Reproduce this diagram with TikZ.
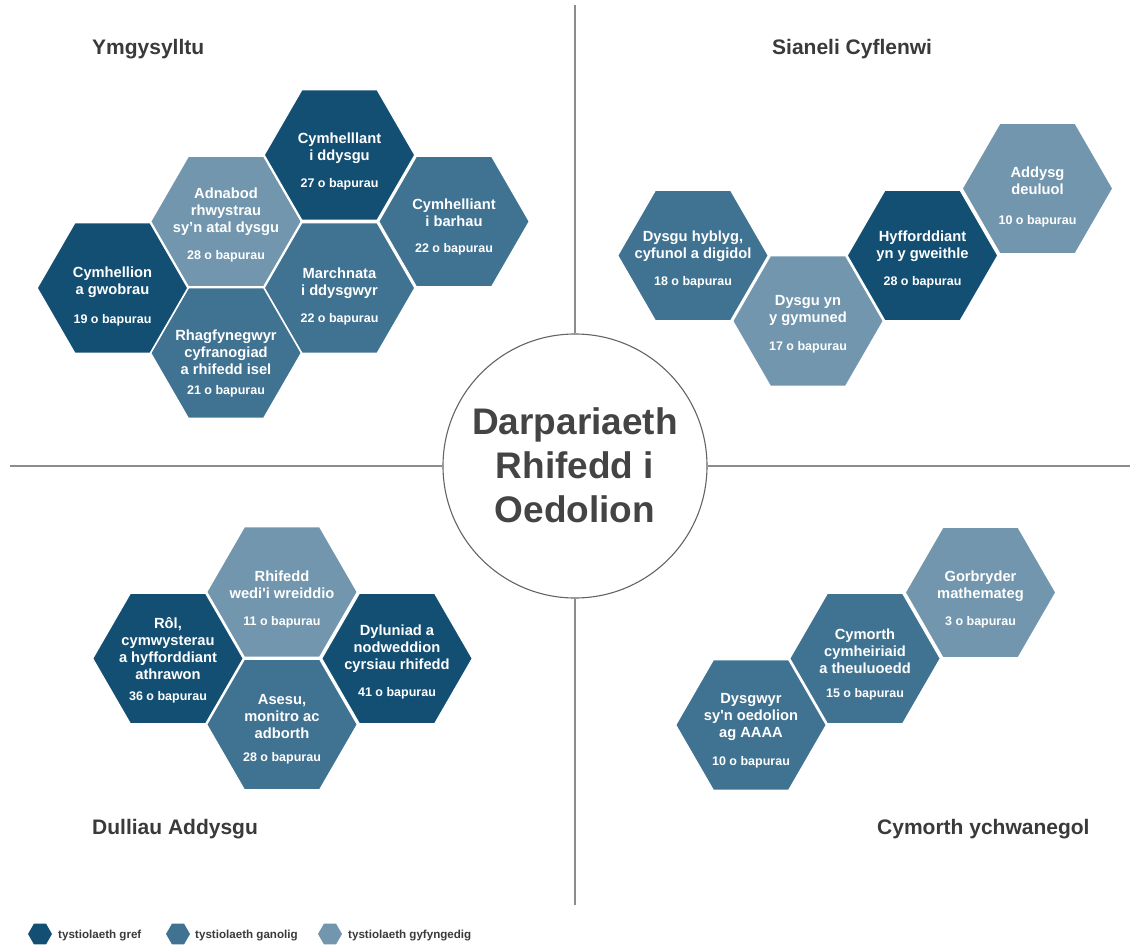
\documentclass[tikz,border=0pt]{standalone}
\usepackage{fontspec}
\newfontfamily\hv{Liberation Sans}
\usetikzlibrary{shapes.geometric}
\definecolor{hdark}{RGB}{19,79,115}
\definecolor{hmed}{RGB}{64,114,146}
\definecolor{hlight}{RGB}{113,150,174}
\definecolor{txtgray}{RGB}{58,58,58}
\definecolor{ctrgray}{RGB}{68,68,68}
\definecolor{linegray}{RGB}{140,140,140}
\definecolor{circgray}{RGB}{100,100,100}
\tikzset{
  hexbase/.style={regular polygon, regular polygon sides=6, minimum size=151pt, inner sep=0pt, outer sep=0pt, draw=white, line width=1.5pt},
  hexdark/.style={hexbase, fill=hdark},
  hexmed/.style={hexbase, fill=hmed},
  hexlight/.style={hexbase, fill=hlight},
  htitle/.style={text=white, font=\hv\bfseries\fontsize{14.7}{17}\selectfont, align=center, inner sep=0pt},
  hnum/.style={text=white, font=\hv\bfseries\fontsize{12.5}{14}\selectfont, inner sep=0pt},
  qtitle/.style={text=txtgray, font=\hv\bfseries\fontsize{21}{24}\selectfont, anchor=base west, inner sep=0pt},
  sepline/.style={draw=linegray, line width=1.3pt},
  leghex/.style={regular polygon, regular polygon sides=6, minimum size=24pt, inner sep=0pt, outer sep=0pt, draw=none},
  legtext/.style={text=txtgray, font=\hv\bfseries\fontsize{11.6}{13}\selectfont, anchor=west, inner sep=0pt},
}
\newcommand\hexitem[8]{%
  \node[#4] (#1) at (#2,#3) {};
  \node[htitle] (#1t) at (#2,#6) {#5};
  \node[hnum] (#1n) at (#2,#8) {#7};
}
\begin{document}
\begin{tikzpicture}[x=1pt,y=-1pt]
\useasboundingbox (0,0) rectangle (1130,946);
\fill[white] (0,0) rectangle (1130,946);

% centre circle and separator lines
\node[circle, draw=circgray, line width=1.1pt, minimum size=264pt, inner sep=0pt] (c) at (575,466) {};
\node[text=ctrgray, font=\hv\bfseries\fontsize{37}{44}\selectfont, align=center, inner sep=0pt] (ctext) at (575,465.5) {Darpariaeth\\Rhifedd i\\Oedolion};
\coordinate (vt) at (575,5);
\coordinate (vb) at (575,905);
\coordinate (hl) at (10,466);
\coordinate (hr) at (1130,466);
\draw[sepline] (vt) -- (c.north);
\draw[sepline] (c.south) -- (vb);
\draw[sepline] (hl) -- (c.west);
\draw[sepline] (c.east) -- (hr);

% quadrant titles
\node[qtitle] (q1) at (92,54.5) {Ymgysylltu};
\node[qtitle] (q2) at (772,54.5) {Sianeli Cyflenwi};
\node[qtitle] (q3) at (92,834.5) {Dulliau Addysgu};
\node[qtitle] (q4) at (877,834.5) {Cymorth ychwanegol};

% top-left cluster
\hexitem{h1}{339.5}{155}{hexdark}{Cymhelllant\\i ddysgu}{148}{27 o bapurau}{184}
\hexitem{h2}{226}{221.5}{hexlight}{Adnabod\\rhwystrau\\sy’n atal dysgu}{212}{28 o bapurau}{256}
\hexitem{h3}{454}{221.5}{hexmed}{Cymhelliant\\i barhau}{212.5}{22 o bapurau}{249}
\hexitem{h4}{339.5}{288}{hexmed}{Marchnata\\i ddysgwyr}{283.5}{22 o bapurau}{319}
\hexitem{h5}{226}{353}{hexmed}{Rhagfynegwyr\\cyfranogiad\\a rhifedd isel}{352.5}{21 o bapurau}{391}
\hexitem{h6}{112.5}{288}{hexdark}{Cymhellion\\a gwobrau}{282.5}{19 o bapurau}{320}

% top-right cluster
\hexitem{h7}{693}{255.5}{hexmed}{Dysgu hyblyg,\\cyfunol a digidol}{246.5}{18 o bapurau}{282}
\hexitem{h8}{808}{321}{hexlight}{Dysgu yn\\y gymuned}{310.5}{17 o bapurau}{347}
\hexitem{h9}{922.5}{255.5}{hexdark}{Hyfforddiant\\yn y gweithle}{246.5}{28 o bapurau}{282}
\hexitem{h10}{1037.5}{188.5}{hexlight}{Addysg\\deuluol}{180.5}{10 o bapurau}{221}

% bottom-left cluster
\hexitem{h11}{282}{592}{hexlight}{Rhifedd\\wedi'i wreiddio}{585}{11 o bapurau}{622}
\hexitem{h12}{168}{658.5}{hexdark}{Rôl,\\cymwysterau\\a hyfforddiant\\athrawon}{649}{36 o bapurau}{697}
\hexitem{h13}{397}{658.5}{hexdark}{Dyluniad a\\nodweddion\\cyrsiau rhifedd}{649}{41 o bapurau}{693}
\hexitem{h14}{282}{724.5}{hexmed}{Asesu,\\monitro ac\\adborth}{717}{28 o bapurau}{758}

% bottom-right cluster
\hexitem{h15}{980.5}{592.5}{hexlight}{Gorbryder\\mathemateg}{586.5}{3 o bapurau}{622}
\hexitem{h16}{865}{658.5}{hexmed}{Cymorth\\cymheiriaid\\a theuluoedd}{651.5}{15 o bapurau}{694}
\hexitem{h17}{751}{725}{hexmed}{Dysgwyr\\sy'n oedolion\\ag AAAA}{716.5}{10 o bapurau}{762}

% legend
\node[leghex, fill=hdark] (l1) at (40,934) {};
\node[legtext] (l1t) at (58,936) {tystiolaeth gref};
\node[leghex, fill=hmed] (l2) at (178,934) {};
\node[legtext] (l2t) at (195,936) {tystiolaeth ganolig};
\node[leghex, fill=hlight] (l3) at (330,934) {};
\node[legtext] (l3t) at (348,936) {tystiolaeth gyfyngedig};
\end{tikzpicture}
\end{document}
